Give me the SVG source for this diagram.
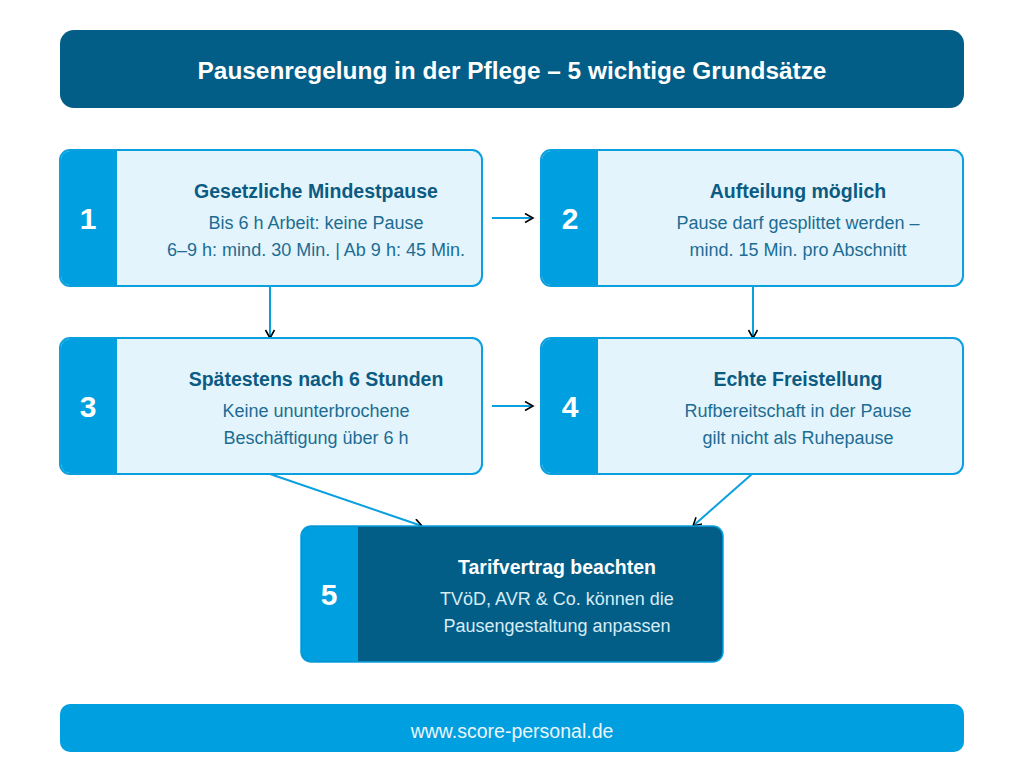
<svg xmlns="http://www.w3.org/2000/svg" width="1024" height="783" viewBox="0 0 1024 783">
<style>
.box{fill:#e3f4fc;stroke:#0aa0e0;stroke-width:2}
.dark{fill:#025e87;stroke:#0aa0e0;stroke-width:1.5}
.strip{fill:#009fe0}
.num{font-family:"Liberation Sans",Arial,sans-serif;font-weight:bold;font-size:30px;fill:#fff;text-anchor:middle}
.t{font-family:"Liberation Sans",Arial,sans-serif;font-weight:bold;font-size:19.5px;fill:#0b5b82;text-anchor:middle}
.b{font-family:"Liberation Sans",Arial,sans-serif;font-size:18px;fill:#1d6c93;text-anchor:middle}
.tw{fill:#fff}
.bw{fill:#d6ecf7}
.conn line{stroke:#0aa0e0;stroke-width:2;marker-end:url(#ah)}
</style>
<defs>
<marker id="ah" markerWidth="12" markerHeight="12" refX="9" refY="5" orient="auto" markerUnits="userSpaceOnUse">
<path d="M1,0.5 L9,5 L1,9.5" fill="none" stroke="#000" stroke-width="1.6"/>
</marker>
</defs>
<rect width="1024" height="783" fill="#fff"/>
<g id="header">
<rect x="60" y="30" width="904" height="78" rx="14" fill="#025e87"/>
<text x="512" y="78.5" font-family="Liberation Sans,Arial,sans-serif" font-weight="bold" font-size="24.4" fill="#fff" text-anchor="middle">Pausenregelung in der Pflege – 5 wichtige Grundsätze</text>
</g>
<g class="conn" id="connectors">
<line x1="492" y1="218" x2="533" y2="218"/>
<line x1="270" y1="287" x2="270" y2="338"/>
<line x1="753" y1="287" x2="753" y2="338"/>
<line x1="492" y1="406" x2="533" y2="406"/>
<line x1="270" y1="474" x2="422" y2="526"/>
<line x1="752" y1="474" x2="693" y2="526"/>
</g>
<g id="node1">
<rect class="box" x="60" y="150" width="422" height="136" rx="10"/>
<path class="strip" d="M70,151 H117 V285 H70 A9,9 0 0 1 61,276 V160 A9,9 0 0 1 70,151 Z"/>
<text class="num" x="88" y="229">1</text>
<text class="t" x="316" y="198">Gesetzliche Mindestpause</text>
<text class="b" x="316" y="228.5">Bis 6 h Arbeit: keine Pause</text>
<text class="b" x="316" y="255.5">6–9 h: mind. 30 Min. | Ab 9 h: 45 Min.</text>
</g>
<g id="node2">
<rect class="box" x="541" y="150" width="422" height="136" rx="10"/>
<path class="strip" d="M551,151 H598 V285 H551 A9,9 0 0 1 542,276 V160 A9,9 0 0 1 551,151 Z"/>
<text class="num" x="570" y="229">2</text>
<text class="t" x="798" y="198">Aufteilung möglich</text>
<text class="b" x="798" y="228.5">Pause darf gesplittet werden –</text>
<text class="b" x="798" y="255.5">mind. 15 Min. pro Abschnitt</text>
</g>
<g id="node3">
<rect class="box" x="60" y="338" width="422" height="136" rx="10"/>
<path class="strip" d="M70,339 H117 V473 H70 A9,9 0 0 1 61,464 V348 A9,9 0 0 1 70,339 Z"/>
<text class="num" x="88" y="417">3</text>
<text class="t" x="316" y="386">Spätestens nach 6 Stunden</text>
<text class="b" x="316" y="416.5">Keine ununterbrochene</text>
<text class="b" x="316" y="443.5">Beschäftigung über 6 h</text>
</g>
<g id="node4">
<rect class="box" x="541" y="338" width="422" height="136" rx="10"/>
<path class="strip" d="M551,339 H598 V473 H551 A9,9 0 0 1 542,464 V348 A9,9 0 0 1 551,339 Z"/>
<text class="num" x="570" y="417">4</text>
<text class="t" x="798" y="386">Echte Freistellung</text>
<text class="b" x="798" y="416.5">Rufbereitschaft in der Pause</text>
<text class="b" x="798" y="443.5">gilt nicht als Ruhepause</text>
</g>
<g id="node5">
<rect class="dark" x="301" y="526" width="422" height="136" rx="10"/>
<path class="strip" d="M311,526.75 H358 V661.25 H311 A9,9 0 0 1 301.75,652 V536 A9,9 0 0 1 311,526.75 Z"/>
<text class="num" x="329" y="605">5</text>
<text class="t tw" x="557" y="574">Tarifvertrag beachten</text>
<text class="b bw" x="557" y="604.5">TVöD, AVR &amp; Co. können die</text>
<text class="b bw" x="557" y="631.5">Pausengestaltung anpassen</text>
</g>
<g id="footer">
<rect x="60" y="704" width="904" height="48" rx="10" fill="#009fe0"/>
<text x="512" y="738" font-family="Liberation Sans,Arial,sans-serif" font-size="19.5" fill="#eaf6fc" text-anchor="middle">www.score-personal.de</text>
</g>
</svg>
